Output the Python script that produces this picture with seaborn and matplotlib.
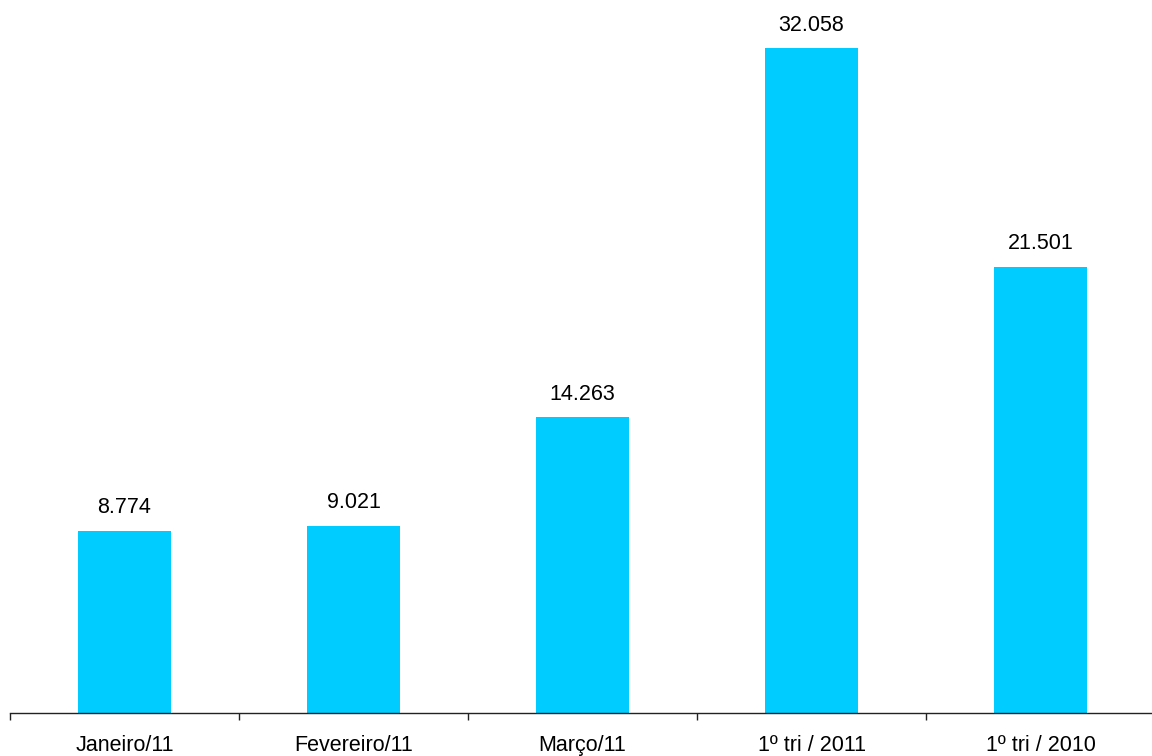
import matplotlib
matplotlib.use("Agg")
import matplotlib.pyplot as plt
import seaborn as sns
import pandas as pd
import numpy as np

categories = ["Janeiro/11", "Fevereiro/11", "Março/11", "1º tri / 2011", "1º tri / 2010"]
values = [8774, 9021, 14263, 32058, 21501]
value_labels = ["8.774", "9.021", "14.263", "32.058", "21.501"]

sns.set_theme(style="white")
plt.rcParams['font.family'] = ['Liberation Sans', 'DejaVu Sans']

df = pd.DataFrame({"cat": categories, "val": values})

fig = plt.figure(figsize=(11.52, 7.56), dpi=100)
ax = fig.add_axes([10/1152, 43/756, 1145/1152, 713/756])
sns.barplot(data=df, x="cat", y="val", color="#00CCFF", saturation=1, width=0.41, ax=ax)
for p in ax.patches:
    p.set_edgecolor("none")

ax.set_xlim(-0.5, len(categories) - 0.5)
ax.set_ylim(0, 34372)
ax.set_xlabel("")
ax.set_ylabel("")
ax.set_yticks([])
for s in ["top", "right", "left"]:
    ax.spines[s].set_visible(False)
ax.spines["bottom"].set_color("#222222")
ax.spines["bottom"].set_linewidth(1.0)

ax.bar_label(ax.containers[0], labels=value_labels, padding=9, fontsize=15.5, color="black")

n = len(categories)
ax.set_xticks(np.arange(n + 1) - 0.5)
ax.set_xticklabels([])
ax.tick_params(axis="x", which="major", direction="out", length=5, width=1, color="#222222", bottom=True)
ax.set_xticks(np.arange(n), minor=True)
ax.set_xticklabels(categories, minor=True, fontsize=15.5, color="black")
ax.tick_params(axis="x", which="minor", length=0, pad=16, bottom=True)

fig.savefig("out.png", dpi=100)
